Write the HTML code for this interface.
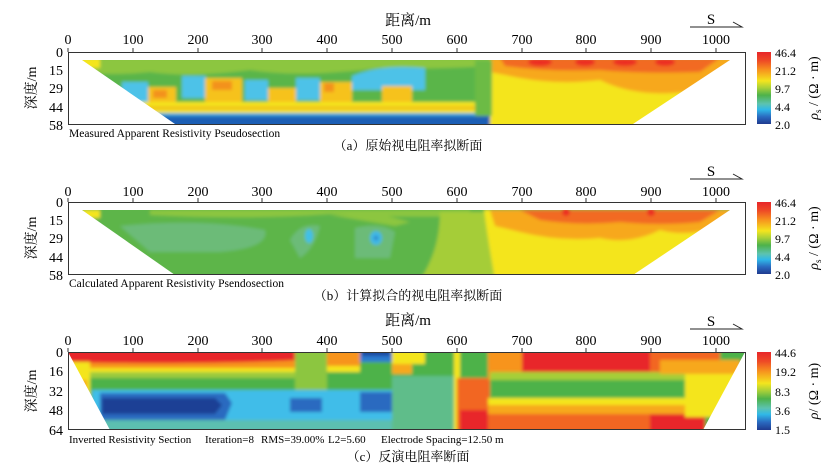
<!DOCTYPE html>
<html><head><meta charset="utf-8"><style>
html,body{margin:0;padding:0;background:#fff;}
svg{display:block;font-family:"Liberation Serif","Noto Serif CJK SC",serif;}
</style></head><body>
<svg width="833" height="472" viewBox="0 0 833 472" xmlns="http://www.w3.org/2000/svg">
<defs>
<linearGradient id="cb" x1="0" y1="0" x2="0" y2="1">
<stop offset="0" stop-color="#e8262a"/><stop offset="0.12" stop-color="#ee4a26"/>
<stop offset="0.25" stop-color="#f7941e"/><stop offset="0.4" stop-color="#f4e51e"/>
<stop offset="0.5" stop-color="#a6cf39"/><stop offset="0.6" stop-color="#4db24a"/>
<stop offset="0.72" stop-color="#5cc3b0"/><stop offset="0.8" stop-color="#30b8e8"/>
<stop offset="0.9" stop-color="#2a6ac0"/><stop offset="1" stop-color="#1f3a8f"/>
</linearGradient>
<clipPath id="ca"><polygon points="82,60 730,60 633,124 175,124"/></clipPath>
<clipPath id="cbp"><polygon points="82,210 730,210 633,275 175,275"/></clipPath>
<clipPath id="cc"><polygon points="68,352 745,352 703,430 110,430"/></clipPath>
<filter id="bl" x="-5%" y="-20%" width="110%" height="140%"><feGaussianBlur stdDeviation="1.6"/></filter>
</defs>

<!-- ===== Panel A ===== -->
<text x="408" y="25" font-size="15" text-anchor="middle">距离/m</text>
<g font-size="14" text-anchor="middle">
<text x="68" y="44">0</text><text x="133" y="44">100</text><text x="198" y="44">200</text><text x="262" y="44">300</text><text x="327" y="44">400</text><text x="392" y="44">500</text><text x="457" y="44">600</text><text x="522" y="44">700</text><text x="586" y="44">800</text><text x="651" y="44">900</text><text x="716" y="44">1000</text>
</g>
<g clip-path="url(#ca)">
<g filter="url(#bl)">
<rect x="60" y="55" width="700" height="75" fill="#5ab54a"/>
<path d="M80 58 H490 V66 Q420 70 380 68 Q300 78 250 70 Q190 78 150 72 Q110 76 80 72Z" fill="#8cc63f"/>
<rect x="80" y="58" width="20" height="10" fill="#f4e51e"/>
<g fill="#4ec2e8">
<path d="M122 82 H148 V102 H122Z"/><path d="M182 76 H206 V98 H182Z"/><path d="M245 80 H268 V100 H245Z"/><path d="M296 78 H320 V100 H296Z"/><path d="M352 76 Q380 64 425 68 V90 H352Z"/>
</g>
<g fill="#f6c21c">
<path d="M148 87 H176 V104 H148Z"/><path d="M205 78 H242 V104 H205Z"/><path d="M268 88 H296 V104 H268Z"/><path d="M320 82 H352 V104 H320Z"/><path d="M382 86 H412 V104 H382Z"/>
</g>
<g fill="#f3921e"><rect x="153" y="90" width="14" height="8"/><rect x="212" y="81" width="20" height="9"/><rect x="324" y="83" width="10" height="9"/></g>
<rect x="130" y="102" width="370" height="12" fill="#f4e51e"/>
<rect x="130" y="106" width="370" height="4" fill="#f0c51e"/>
<rect x="150" y="113" width="360" height="4" fill="#3aa8e0"/>
<rect x="150" y="116" width="360" height="14" fill="#1f5fb5"/>
<path d="M490 58 H740 V130 H490Z" fill="#f4e51e"/>
<path d="M490 58 H740 L700 90 Q640 100 600 80 Q560 85 520 78 L490 72Z" fill="#f7a81e"/>
<path d="M500 58 H720 L700 72 Q640 74 600 70 Q550 72 505 66Z" fill="#f26a22"/>
<g fill="#ec2e24"><ellipse cx="540" cy="62" rx="12" ry="4"/><ellipse cx="585" cy="62" rx="10" ry="4"/><ellipse cx="625" cy="62" rx="12" ry="4"/><ellipse cx="665" cy="62" rx="10" ry="4"/></g>
<path d="M475 60 H492 V116 H475Z" fill="#6cbb44"/>
</g></g>
<rect x="68.5" y="52.5" width="677" height="72" fill="none" stroke="#333" stroke-width="1"/>
<g stroke="#333"><line x1="68" y1="52" x2="68" y2="48"/><line x1="133" y1="52" x2="133" y2="48"/><line x1="198" y1="52" x2="198" y2="48"/><line x1="262" y1="52" x2="262" y2="48"/><line x1="327" y1="52" x2="327" y2="48"/><line x1="392" y1="52" x2="392" y2="48"/><line x1="457" y1="52" x2="457" y2="48"/><line x1="522" y1="52" x2="522" y2="48"/><line x1="586" y1="52" x2="586" y2="48"/><line x1="651" y1="52" x2="651" y2="48"/><line x1="716" y1="52" x2="716" y2="48"/></g>
<g font-size="14" text-anchor="end"><text x="63" y="57">0</text><text x="63" y="75">15</text><text x="63" y="93">29</text><text x="63" y="112">44</text><text x="63" y="130">58</text></g>
<text transform="translate(36,88) rotate(-90)" font-size="14" text-anchor="middle">深度/m</text>
<text x="69" y="137" font-size="11.5">Measured Apparent Resistivity Pseudosection</text>
<text x="408" y="150" font-size="13" text-anchor="middle">（a）原始视电阻率拟断面</text>
<rect x="757" y="52" width="14" height="72" fill="url(#cb)"/>
<g font-size="12"><text x="775" y="57">46.4</text><text x="775" y="75">21.2</text><text x="775" y="93">9.7</text><text x="775" y="111">4.4</text><text x="775" y="129">2.0</text></g>
<text transform="translate(818,88) rotate(-90)" font-size="14" text-anchor="middle"><tspan font-style="italic">ρ</tspan><tspan font-size="9" dy="3">s</tspan><tspan dy="-3"> / (Ω · m)</tspan></text>
<text x="711" y="24" font-size="15" text-anchor="middle">S</text>
<path d="M690 27 H742 L733 22" fill="none" stroke="#222"/>

<!-- ===== Panel B ===== -->
<g font-size="14" text-anchor="middle">
<text x="68" y="196">0</text><text x="133" y="196">100</text><text x="198" y="196">200</text><text x="262" y="196">300</text><text x="327" y="196">400</text><text x="392" y="196">500</text><text x="457" y="196">600</text><text x="522" y="196">700</text><text x="586" y="196">800</text><text x="651" y="196">900</text><text x="716" y="196">1000</text>
</g>
<g clip-path="url(#cbp)"><g filter="url(#bl)">
<rect x="60" y="205" width="700" height="75" fill="#5db548"/>
<path d="M120 226 Q200 218 265 230 Q270 248 220 252 H150 Z" fill="#6cbb78"/>
<path d="M290 240 Q300 222 320 226 Q315 248 300 258 Z" fill="#6cbb78"/>
<path d="M355 228 Q380 222 395 232 L390 258 H355Z" fill="#6cbb78"/>
<ellipse cx="309" cy="236" rx="4" ry="7" fill="#40c0e8"/>
<ellipse cx="376" cy="238" rx="6" ry="7" fill="#40b8e6"/><ellipse cx="376" cy="238" rx="2" ry="2" fill="#2a80c8"/>
<path d="M150 210 H470 V216 Q400 218 330 214 Q250 220 150 215Z" fill="#8cc63f"/>
<path d="M330 215 Q360 220 395 226 L410 222 L380 214Z" fill="#8cc63f"/>
<rect x="82" y="210" width="18" height="8" fill="#f4e51e"/>
<path d="M440 212 H500 V280 H420 Q440 250 440 212Z" fill="#a5cd39"/>
<path d="M484 210 H740 V280 H495 Q488 240 484 210Z" fill="#f4e51e"/>
<path d="M490 210 H740 L720 225 Q690 238 660 230 Q630 245 600 238 Q560 242 520 232 L495 226Z" fill="#f7a81e"/>
<path d="M520 210 H720 L700 222 Q660 226 620 222 Q580 226 540 220Z" fill="#f26a22"/>
<circle cx="566" cy="212" r="4" fill="#ec2e24"/><circle cx="651" cy="212" r="4" fill="#ec2e24"/>
</g></g>
<rect x="68.5" y="202.5" width="677" height="72" fill="none" stroke="#333"/>
<g stroke="#333"><line x1="68" y1="202" x2="68" y2="198"/><line x1="133" y1="202" x2="133" y2="198"/><line x1="198" y1="202" x2="198" y2="198"/><line x1="262" y1="202" x2="262" y2="198"/><line x1="327" y1="202" x2="327" y2="198"/><line x1="392" y1="202" x2="392" y2="198"/><line x1="457" y1="202" x2="457" y2="198"/><line x1="522" y1="202" x2="522" y2="198"/><line x1="586" y1="202" x2="586" y2="198"/><line x1="651" y1="202" x2="651" y2="198"/><line x1="716" y1="202" x2="716" y2="198"/></g>
<g font-size="14" text-anchor="end"><text x="63" y="207">0</text><text x="63" y="225">15</text><text x="63" y="243">29</text><text x="63" y="262">44</text><text x="63" y="280">58</text></g>
<text transform="translate(36,238) rotate(-90)" font-size="14" text-anchor="middle">深度/m</text>
<text x="69" y="287" font-size="11.5">Calculated Apparent Resistivity Psendosection</text>
<text x="408" y="300" font-size="13" text-anchor="middle">（b）计算拟合的视电阻率拟断面</text>
<rect x="757" y="202" width="14" height="72" fill="url(#cb)"/>
<g font-size="12"><text x="775" y="207">46.4</text><text x="775" y="225">21.2</text><text x="775" y="243">9.7</text><text x="775" y="261">4.4</text><text x="775" y="279">2.0</text></g>
<text transform="translate(818,238) rotate(-90)" font-size="14" text-anchor="middle"><tspan font-style="italic">ρ</tspan><tspan font-size="9" dy="3">s</tspan><tspan dy="-3"> / (Ω · m)</tspan></text>
<text x="711" y="176" font-size="15" text-anchor="middle">S</text>
<path d="M690 179 H742 L733 174" fill="none" stroke="#222"/>

<!-- ===== Panel C ===== -->
<text x="408" y="325" font-size="15" text-anchor="middle">距离/m</text>
<g font-size="14" text-anchor="middle">
<text x="68" y="345">0</text><text x="133" y="345">100</text><text x="198" y="345">200</text><text x="262" y="345">300</text><text x="327" y="345">400</text><text x="392" y="345">500</text><text x="457" y="345">600</text><text x="522" y="345">700</text><text x="586" y="345">800</text><text x="651" y="345">900</text><text x="716" y="345">1000</text>
</g>
<g clip-path="url(#cc)"><g filter="url(#bl)">
<rect x="60" y="348" width="700" height="90" fill="#4db24a"/>
<rect x="60" y="348" width="240" height="24" fill="#f4e51e"/>
<rect x="60" y="348" width="240" height="20" fill="#f7941e"/>
<path d="M60 348 H300 V360 Q200 365 60 362Z" fill="#e8262a"/>
<rect x="60" y="372" width="240" height="6" fill="#9ccb3c"/>
<rect x="60" y="362" width="30" height="70" fill="#f4e51e"/><rect x="75" y="380" width="12" height="30" fill="#f7a81e"/>
<rect x="92" y="390" width="300" height="40" fill="#3fbde9"/>
<rect x="95" y="420" width="300" height="12" fill="#5cc0b0"/>
<path d="M100 393 H225 L232 403 L225 420 H100Z" fill="#2a6ac0"/>
<path d="M102 398 H215 L222 405 L215 414 H102Z" fill="#1e3f95"/>
<path d="M290 398 H322 V412 H290Z" fill="#2a6ac0"/>
<path d="M360 392 H392 V412 H360Z" fill="#2a6ac0"/>
<rect x="295" y="350" width="32" height="40" fill="#8cc63f"/>
<rect x="327" y="350" width="33" height="18" fill="#f7941e"/><rect x="327" y="366" width="33" height="6" fill="#f4e51e"/>
<rect x="360" y="350" width="32" height="12" fill="#2a7ad0"/><rect x="362" y="350" width="28" height="6" fill="#1f4aa0"/>
<rect x="392" y="350" width="33" height="14" fill="#f4e51e"/><rect x="392" y="364" width="20" height="10" fill="#f7a81e"/>
<rect x="392" y="376" width="65" height="56" fill="#5ebd8a"/>
<rect x="454" y="350" width="6" height="82" fill="#f4e51e"/>
<rect x="457" y="378" width="35" height="55" fill="#f26622"/>
<rect x="460" y="410" width="30" height="22" fill="#e8262a"/>
<rect x="488" y="350" width="35" height="30" fill="#f7941e"/>
<rect x="522" y="350" width="130" height="22" fill="#e8262a"/>
<rect x="650" y="350" width="70" height="22" fill="#f26622"/>
<rect x="490" y="372" width="200" height="8" fill="#a6cf39"/>
<rect x="490" y="380" width="195" height="18" fill="#4db24a"/>
<rect x="488" y="398" width="210" height="8" fill="#f4e51e"/>
<rect x="488" y="405" width="210" height="10" fill="#f7a81e"/>
<rect x="488" y="414" width="215" height="20" fill="#f26622"/>
<rect x="650" y="414" width="55" height="20" fill="#e8262a"/>
<rect x="685" y="372" width="60" height="45" fill="#f4e51e"/>
<rect x="660" y="360" width="80" height="14" fill="#f7a81e"/>
</g></g>
<rect x="68.5" y="352.5" width="677" height="77" fill="none" stroke="#333"/>
<g stroke="#333"><line x1="68" y1="352" x2="68" y2="348"/><line x1="133" y1="352" x2="133" y2="348"/><line x1="198" y1="352" x2="198" y2="348"/><line x1="262" y1="352" x2="262" y2="348"/><line x1="327" y1="352" x2="327" y2="348"/><line x1="392" y1="352" x2="392" y2="348"/><line x1="457" y1="352" x2="457" y2="348"/><line x1="522" y1="352" x2="522" y2="348"/><line x1="586" y1="352" x2="586" y2="348"/><line x1="651" y1="352" x2="651" y2="348"/><line x1="716" y1="352" x2="716" y2="348"/></g>
<g font-size="14" text-anchor="end"><text x="63" y="357">0</text><text x="63" y="376">16</text><text x="63" y="396">32</text><text x="63" y="415">48</text><text x="63" y="435">64</text></g>
<text transform="translate(36,391) rotate(-90)" font-size="14" text-anchor="middle">深度/m</text>
<g font-size="11"><text x="69" y="443">Inverted Resistivity Section</text><text x="205" y="443">Iteration=8</text><text x="261" y="443">RMS=39.00%</text><text x="328" y="443">L2=5.60</text><text x="381" y="443">Electrode Spacing=12.50 m</text></g>
<text x="408" y="461" font-size="13" text-anchor="middle">（c）反演电阻率断面</text>
<rect x="757" y="352" width="14" height="78" fill="url(#cb)"/>
<g font-size="12"><text x="775" y="357">44.6</text><text x="775" y="376">19.2</text><text x="775" y="396">8.3</text><text x="775" y="415">3.6</text><text x="775" y="434">1.5</text></g>
<text transform="translate(818,391) rotate(-90)" font-size="14" text-anchor="middle"><tspan font-style="italic">ρ</tspan><tspan>/ (Ω · m)</tspan></text>
<text x="711" y="326" font-size="15" text-anchor="middle">S</text>
<path d="M690 329 H742 L733 324" fill="none" stroke="#222"/>
</svg>
</body></html>
